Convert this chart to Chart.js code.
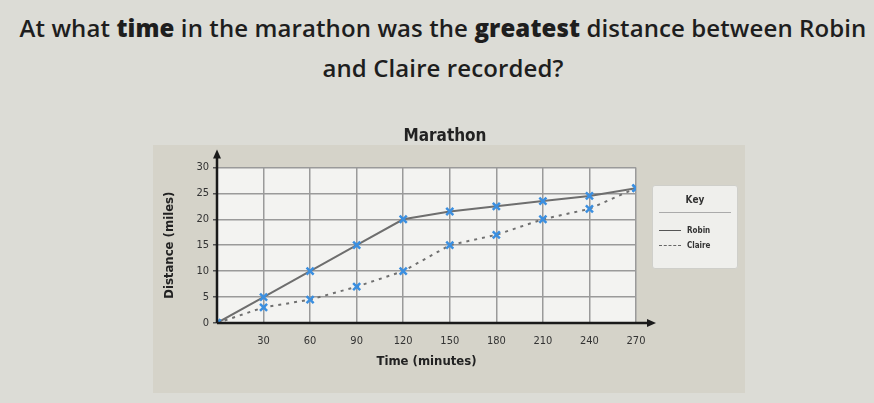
<!DOCTYPE html>
<html>
<head>
<meta charset="utf-8">
<script src="https://cdn.jsdelivr.net/npm/chart.js@4/dist/chart.umd.min.js"></script>
<style>
body { margin:0; width:874px; height:403px; background:#dcdcd6; overflow:hidden; position:relative; font-family:"Open Sans", sans-serif; }
#q { position:absolute; left:6px; top:8px; width:874px; text-align:center; font-size:24px; line-height:40px; font-weight:600; letter-spacing:0.1px; color:#1e1e1e; }
#q b { font-weight:800; }
#card { position:absolute; left:153px; top:145px; width:592px; height:248px; background:#d5d3c9; }
#wrap { position:absolute; left:150px; top:105px; width:582px; height:268px; }
#key { position:absolute; left:652px; top:185px; width:84px; height:82px; background:#efefec; border:1px solid #cfcfca; border-radius:3px; font-family:"DejaVu Sans Condensed", sans-serif; color:#333; }
#key .h { position:absolute; left:0; top:8px; width:84px; text-align:center; font-size:10px; font-weight:bold; }
#key .u { position:absolute; left:6px; top:26px; width:72px; border-top:1px solid #aaa; }
#key .r { position:absolute; left:6px; font-size:8px; font-weight:bold; }
#key .r span { display:inline-block; width:22px; vertical-align:middle; margin-right:6px; }
</style>
</head>
<body>
<div id="q">At what <b>time</b> in the marathon was the <b>greatest</b> distance between Robin<br>and Claire recorded?</div>
<div id="card"></div>
<div id="wrap"><canvas id="marathon"></canvas></div>
<div id="key">
  <div class="h">Key</div>
  <div class="u"></div>
  <div class="r" style="top:40px"><span style="border-top:1.5px solid #555"></span>Robin</div>
  <div class="r" style="top:55px"><span style="border-top:1.5px dashed #666"></span>Claire</div>
</div>
<script>
var times = [0, 30, 60, 90, 120, 150, 180, 210, 240, 270]
var robin = [0, 5, 10, 15, 20, 21.5, 22.5, 23.5, 24.5, 26]
var claire = [0, 3, 4.5, 7, 10, 15, 17, 20, 22, 26]
var yTicks = [0, 5, 10, 15, 20, 25, 30]

function pts(arr) {
  return arr.map(function (v, i) { return { x: times[i], y: v } })
}

// white plot background + black axes with arrow heads
var axesPlugin = {
  id: 'axes',
  beforeDraw: function (chart) {
    var a = chart.chartArea, c = chart.ctx
    c.save()
    c.fillStyle = '#f3f3f1'
    c.fillRect(a.left, a.top, a.right - a.left, a.bottom - a.top)
    c.restore()
  },
  afterDatasetsDraw: function (chart) {
    var a = chart.chartArea, c = chart.ctx
    c.save()
    c.strokeStyle = '#1a1a1a'
    c.fillStyle = '#1a1a1a'
    c.lineWidth = 2.5
    c.beginPath()
    c.moveTo(a.left, a.bottom)
    c.lineTo(a.right + 14, a.bottom)
    c.moveTo(a.left, a.bottom)
    c.lineTo(a.left, a.top - 12)
    c.stroke()
    c.beginPath()
    c.moveTo(a.right + 20, a.bottom)
    c.lineTo(a.right + 11, a.bottom - 4)
    c.lineTo(a.right + 11, a.bottom + 4)
    c.fill()
    c.beginPath()
    c.moveTo(a.left, a.top - 18)
    c.lineTo(a.left - 4, a.top - 9)
    c.lineTo(a.left + 4, a.top - 9)
    c.fill()
    c.restore()
  }
}

var tickFont = { family: 'DejaVu Sans Condensed', size: 11 }
var context = document.getElementById('marathon').getContext('2d')
var chart = new Chart(context, {
  type: 'line',
  data: {
    datasets: [
      {
        label: 'Robin',
        data: pts(robin),
        borderColor: '#6e6e6e',
        borderWidth: 2,
        pointStyle: 'crossRot',
        pointRadius: 5,
        pointBorderWidth: 2.5,
        pointBorderColor: '#3b8fe0',
        pointBackgroundColor: '#3b8fe0'
      },
      {
        label: 'Claire',
        data: pts(claire),
        borderColor: '#707070',
        borderWidth: 2,
        borderDash: [3, 5],
        pointStyle: 'crossRot',
        pointRadius: 5,
        pointBorderWidth: 2.5,
        pointBorderColor: '#3b8fe0',
        pointBackgroundColor: '#3b8fe0'
      }
    ]
  },
  options: {
    responsive: true,
    maintainAspectRatio: false,
    animation: false,
    layout: { padding: { left: 8, right: 0, top: 0, bottom: 0 } },
    plugins: {
      legend: { display: false },
      tooltip: { enabled: false },
      title: {
        display: true,
        text: 'Marathon',
        color: '#222',
        font: { family: 'DejaVu Sans Condensed', size: 17, weight: 'bold' },
        padding: { top: 21, bottom: 21 }
      }
    },
    scales: {
      x: {
        type: 'linear',
        min: 0,
        max: 270,
        afterBuildTicks: function (s) { s.ticks = times.slice(1).map(function (v) { return { value: v } }) },
        grid: { color: '#9a9a9a', lineWidth: 1.5, drawTicks: false },
        border: { display: false },
        ticks: { color: '#333', font: tickFont, padding: 12 },
        title: { display: true, text: 'Time (minutes)', color: '#222', font: { family: 'DejaVu Sans Condensed', size: 13, weight: 'bold' }, padding: { top: 0 } },
        afterFit: function (s) { s.height = 50 }
      },
      y: {
        min: 0,
        max: 30,
        afterBuildTicks: function (s) { s.ticks = yTicks.map(function (v) { return { value: v } }) },
        grid: { color: '#9a9a9a', lineWidth: 1.5, drawTicks: true, tickLength: 4, tickColor: '#555' },
        border: { display: false },
        ticks: { color: '#333', font: tickFont, padding: 4 },
        title: { display: true, text: 'Distance (miles)', color: '#222', font: { family: 'DejaVu Sans Condensed', size: 13, weight: 'bold' }, padding: { bottom: 4 } },
        afterFit: function (s) { s.width = 59 }
      },
      // empty axis on the right only to leave room for the key
      r: {
        position: 'right',
        display: true,
        grid: { display: false },
        border: { display: false },
        ticks: { display: false },
        afterFit: function (s) { s.width = 96 }
      }
    }
  },
  plugins: [axesPlugin]
})
</script>
</body>
</html>
